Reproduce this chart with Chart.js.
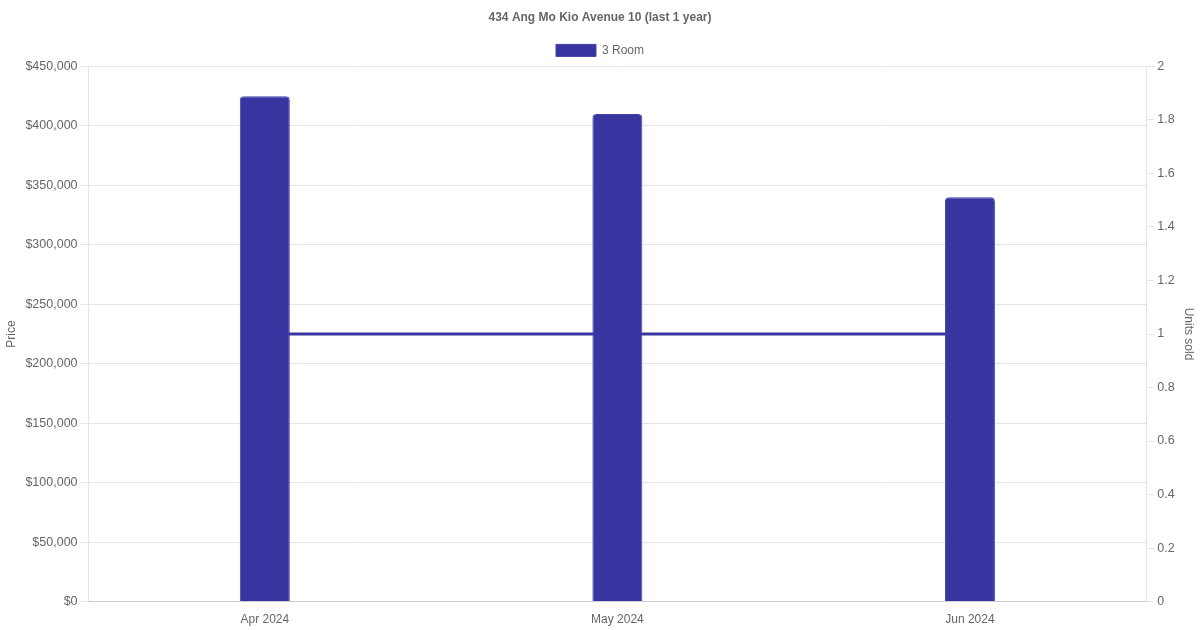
<!DOCTYPE html>
<html>
<head>
<meta charset="utf-8">
<script src="https://cdn.jsdelivr.net/npm/chart.js@4.4.0/dist/chart.umd.min.js"></script>
<style>
  html, body { margin: 0; padding: 0; background: #fff; }
  #wrap { width: 1200px; height: 630px; }
</style>
</head>
<body>
<div id="wrap"><canvas id="chart-area"></canvas></div>
<script>
var months = ['Apr 2024', 'May 2024', 'Jun 2024'];
var avg_price = [425000, 410000, 340000];
var units_sold = [1, 1, 1];

var barColor = 'rgb(57, 53, 160)';

Chart.defaults.font.family = "'Liberation Sans', Arial, sans-serif";
Chart.defaults.color = '#666';

var config = {
  data: {
    labels: months,
    datasets: [
      {
        type: 'bar',
        label: '3 Room',
        data: avg_price,
        backgroundColor: barColor,
        borderColor: 'rgba(70, 66, 172, 1)',
        borderWidth: 1,
        borderRadius: 4,
        borderSkipped: 'bottom',
        maxBarThickness: 50,
        yAxisID: 'y',
        order: 1
      },
      {
        type: 'line',
        label: 'Units sold',
        data: units_sold,
        borderColor: barColor,
        backgroundColor: barColor,
        borderWidth: 3,
        pointRadius: 0,
        pointHoverRadius: 0,
        fill: false,
        yAxisID: 'y1',
        order: 2
      }
    ]
  },
  options: {
    responsive: true,
    maintainAspectRatio: false,
    animation: false,
    plugins: {
      title: {
        display: true,
        text: '434 Ang Mo Kio Avenue 10 (last 1 year)',
        font: { size: 12, weight: 'bold' },
        color: '#666'
      },
      legend: {
        labels: {
          filter: function(item) { return item.datasetIndex === 0; }
        }
      }
    },
    scales: {
      x: {
        grid: { display: false }
      },
      y: {
        position: 'left',
        min: 0,
        max: 450000,
        ticks: {
          stepSize: 50000,
          font: { size: 12.5 },
          callback: function(v) { return '$' + v.toLocaleString('en-US'); }
        },
        title: { display: true, text: 'Price' }
      },
      y1: {
        position: 'right',
        min: 0,
        max: 2,
        ticks: {
          stepSize: 0.2,
          font: { size: 12.5 },
          callback: function(v) { return String(Math.round(v * 10) / 10); }
        },
        grid: { drawOnChartArea: false },
        title: { display: true, text: 'Units sold' }
      }
    }
  }
};

var ctx = document.getElementById('chart-area').getContext('2d');
var chart = new Chart(ctx, config);
</script>
</body>
</html>
